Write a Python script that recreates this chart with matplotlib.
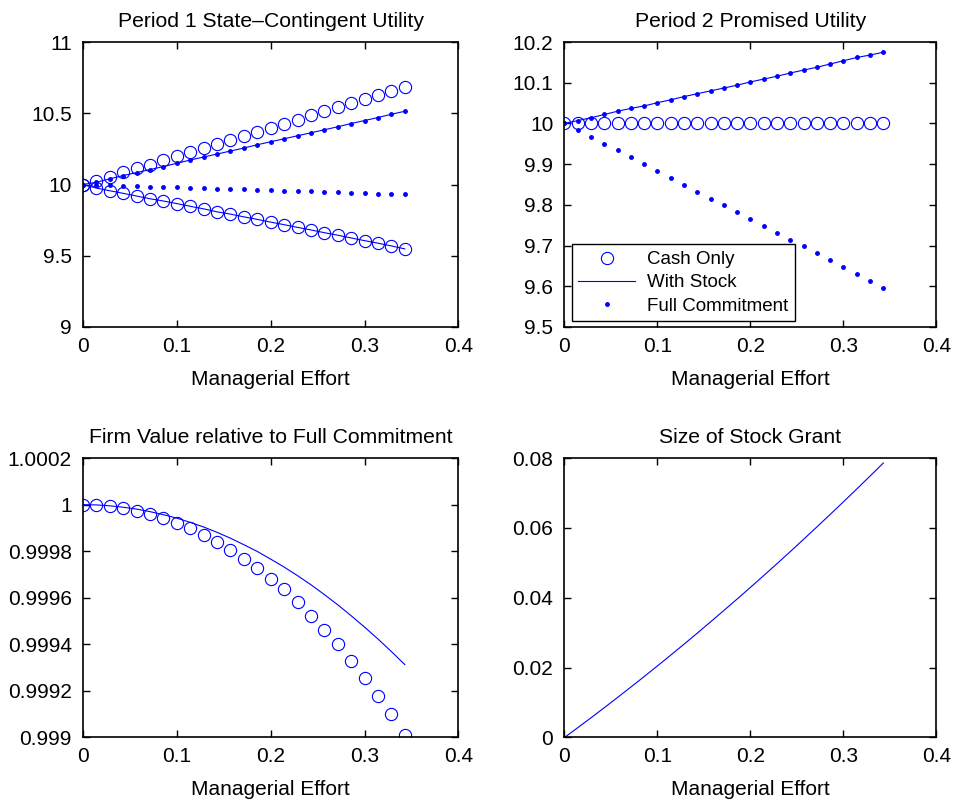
import matplotlib
matplotlib.use("Agg")
import matplotlib.pyplot as plt
from matplotlib.ticker import FormatStrFormatter

plt.rcParams.update({"font.family": "Liberation Sans", "font.size": 15,
                     "axes.linewidth": 1.2, "xtick.direction": "in", "ytick.direction": "in",
                     "xtick.top": True, "ytick.right": True,
                     "xtick.major.size": 5, "ytick.major.size": 5,
                     "xtick.major.width": 1.0, "ytick.major.width": 1.0})

BLUE = "#0000FF"

# managerial effort grid (25 points)
effort = [0.0, 0.0143, 0.0286, 0.0429, 0.0571, 0.0714, 0.0857, 0.1, 0.1143, 0.1286,
          0.1429, 0.1571, 0.1714, 0.1857, 0.2, 0.2143, 0.2286, 0.2429, 0.2571, 0.2714,
          0.2857, 0.3, 0.3143, 0.3286, 0.3429]

# Period 1 state-contingent utility
p1_cash_hi = [10.000, 10.028, 10.056, 10.086, 10.116, 10.140, 10.170, 10.198, 10.226, 10.256,
              10.286, 10.314, 10.342, 10.372, 10.400, 10.428, 10.456, 10.486, 10.514, 10.542,
              10.572, 10.600, 10.628, 10.656, 10.684]
p1_cash_lo = [10.000, 9.975, 9.956, 9.938, 9.919, 9.900, 9.884, 9.866, 9.847, 9.829,
              9.808, 9.792, 9.773, 9.755, 9.736, 9.718, 9.699, 9.681, 9.662, 9.644,
              9.625, 9.606, 9.588, 9.569, 9.548]
p1_stock_hi = [10.000, 10.016, 10.040, 10.063, 10.084, 10.105, 10.126, 10.149, 10.172, 10.193,
               10.214, 10.235, 10.256, 10.279, 10.300, 10.321, 10.342, 10.363, 10.384, 10.405,
               10.428, 10.449, 10.470, 10.493, 10.514]
p1_stock_lo = p1_cash_lo
p1_full_hi = p1_stock_hi
p1_full_lo = [10.000, 9.997, 9.994, 9.991, 9.988, 9.986, 9.983, 9.980, 9.977, 9.974,
              9.971, 9.968, 9.965, 9.962, 9.959, 9.957, 9.954, 9.951, 9.948, 9.945,
              9.942, 9.939, 9.936, 9.933, 9.930]

# Period 2 promised utility
p2_cash = [10.0] * 25
p2_stock = [10.000, 10.007, 10.014, 10.022, 10.030, 10.037, 10.043, 10.051, 10.058, 10.066,
            10.073, 10.080, 10.087, 10.094, 10.102, 10.109, 10.116, 10.124, 10.131, 10.138,
            10.146, 10.154, 10.162, 10.168, 10.175]
p2_full_hi = p2_stock
p2_full_lo = [10.000, 9.983, 9.966, 9.950, 9.934, 9.917, 9.900, 9.882, 9.866, 9.849,
              9.832, 9.815, 9.799, 9.782, 9.765, 9.748, 9.731, 9.714, 9.698, 9.681,
              9.664, 9.647, 9.630, 9.614, 9.597]

# firm value relative to full commitment
fv_cash = [1.000000, 0.999997, 0.999993, 0.999986, 0.999973, 0.999961, 0.999943, 0.999923,
           0.999899, 0.999871, 0.999841, 0.999807, 0.999767, 0.999729, 0.999681, 0.999636,
           0.999581, 0.999523, 0.999463, 0.999400, 0.999329, 0.999257, 0.999180, 0.999100,
           0.999011]
fv_stock = [1.000000, 0.999999, 0.999995, 0.999989, 0.999981, 0.999970, 0.999957, 0.999942,
            0.999924, 0.999904, 0.999881, 0.999856, 0.999828, 0.999799, 0.999766, 0.999732,
            0.999695, 0.999656, 0.999614, 0.999570, 0.999523, 0.999474, 0.999423, 0.999369,
            0.999313]

# size of stock grant
grant = [0.0, 0.002806, 0.005653, 0.008541, 0.011469, 0.014439, 0.017449, 0.0205, 0.023592,
         0.026724, 0.029898, 0.033112, 0.036368, 0.039663, 0.043, 0.046378, 0.049795,
         0.053255, 0.056755, 0.060296, 0.063877, 0.0675, 0.071164, 0.074867, 0.078612]

x_ticks = [0, 0.1, 0.2, 0.3, 0.4]

fig = plt.figure(figsize=(9.6, 8.05), dpi=100)
ax1 = fig.add_axes([0.0865, 0.5938, 0.391, 0.354])
ax2 = fig.add_axes([0.588, 0.5938, 0.3875, 0.354])
ax3 = fig.add_axes([0.0865, 0.0839, 0.391, 0.347])
ax4 = fig.add_axes([0.588, 0.0839, 0.3875, 0.347])

circ = dict(ls="none", marker="o", ms=8.8, mfc="none", mec=BLUE, mew=0.8)
dots = dict(ls="none", marker=".", ms=5, color=BLUE)
line = dict(ls="-", lw=0.8, color=BLUE)
TITLE_FS = 15.2

# --- Period 1 ---
ax1.plot(effort, p1_cash_hi, **circ)
ax1.plot(effort, p1_cash_lo, **circ)
ax1.plot(effort, p1_stock_hi, **line)
ax1.plot(effort, p1_stock_lo, **line)
ax1.plot(effort, p1_full_hi, **dots)
ax1.plot(effort, p1_full_lo, **dots)
ax1.set_ylim(9, 11); ax1.set_yticks([9, 9.5, 10, 10.5, 11])
ax1.set_title("Period 1 State\u2013Contingent Utility", pad=11, fontsize=TITLE_FS)

# --- Period 2 ---
h1, = ax2.plot(effort, p2_cash, **circ)
h2, = ax2.plot(effort, p2_stock, **line)
h3, = ax2.plot(effort, p2_full_hi, **dots)
ax2.plot(effort, p2_full_lo, **dots)
ax2.set_ylim(9.5, 10.2); ax2.set_yticks([9.5, 9.6, 9.7, 9.8, 9.9, 10, 10.1, 10.2])
ax2.set_title("Period 2 Promised Utility", pad=11, fontsize=TITLE_FS)
leg = ax2.legend([h1, h2, h3], ["Cash Only", "With Stock", "Full Commitment"],
                 loc="lower left", bbox_to_anchor=(0.02, 0.02), fancybox=False,
                 edgecolor="black", framealpha=1, borderaxespad=0, handlelength=3.0,
                 handletextpad=0.65, fontsize=13.5, labelspacing=0.33, borderpad=0.35)
leg.get_frame().set_linewidth(1.0)

# --- Firm value ---
ax3.plot(effort, fv_cash, **circ)
ax3.plot(effort, fv_stock, **line)
ax3.set_ylim(0.999, 1.0002)
ax3.set_yticks([0.999, 0.9992, 0.9994, 0.9996, 0.9998, 1.0, 1.0002])
ax3.set_title("Firm Value relative to Full Commitment", pad=11, fontsize=TITLE_FS)

# --- Stock grant ---
ax4.plot(effort, grant, **line)
ax4.set_ylim(0, 0.08); ax4.set_yticks([0, 0.02, 0.04, 0.06, 0.08])
ax4.set_title("Size of Stock Grant", pad=11, fontsize=TITLE_FS)

for ax in (ax1, ax2, ax3, ax4):
    ax.set_xlim(0, 0.4); ax.set_xticks(x_ticks)
    ax.xaxis.set_major_formatter(FormatStrFormatter("%g"))
    ax.yaxis.set_major_formatter(FormatStrFormatter("%g"))
    ax.tick_params(axis="x", pad=7)
    ax.tick_params(axis="y", pad=8)
    ax.set_xlabel("Managerial Effort", labelpad=10)

fig.savefig("out.png", dpi=100)
